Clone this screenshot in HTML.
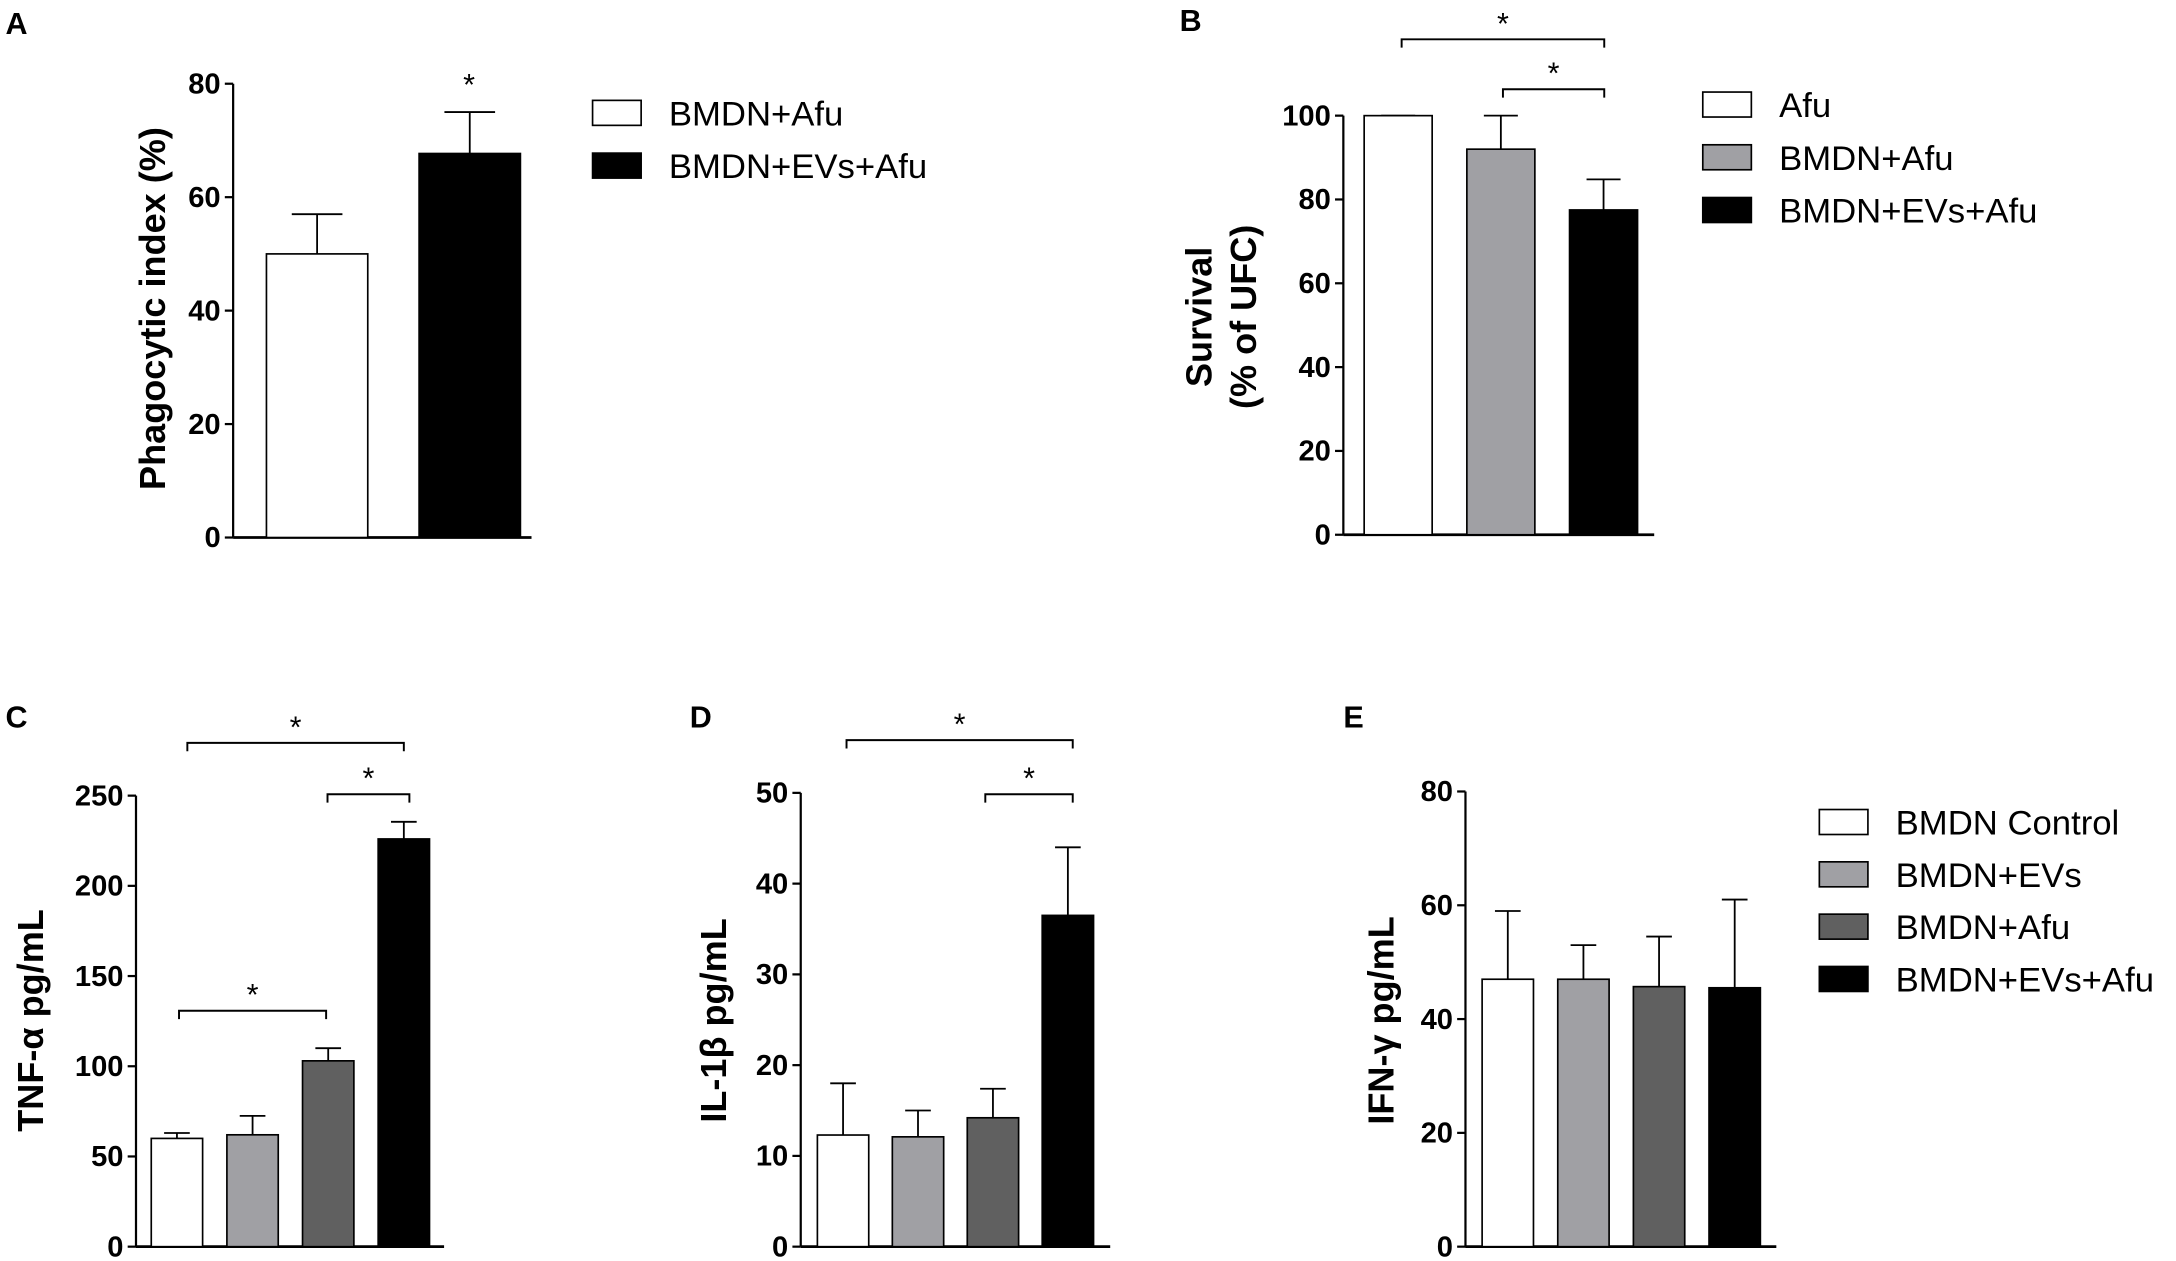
<!DOCTYPE html>
<html><head><meta charset="utf-8"><style>
html,body{margin:0;padding:0;background:#fff}
svg{display:block}
text{font-family:"Liberation Sans",sans-serif}
.tk{font-family:"Liberation Sans Narrow","Liberation Sans",sans-serif;font-weight:bold;font-size:21px}
.lg{font-size:25px}
.tt{font-weight:bold;font-size:26px}
.pl{font-weight:bold;font-size:22px}
</style></head><body>
<svg id="fig" width="2176" height="1261" viewBox="0 0 1568 908" xmlns="http://www.w3.org/2000/svg"></svg>
<script>
const categoriesA=["BMDN+Afu","BMDN+EVs+Afu"];
const valuesA=[50,67.7];
const errA=[57,75];
const ticksA=[0,20,40,60,80];
const categoriesB=["Afu","BMDN+Afu","BMDN+EVs+Afu"];
const valuesB=[100,92,77.5];
const errB=[100,100,84.8];
const ticksB=[0,20,40,60,80,100];
const categoriesCDE=["BMDN Control","BMDN+EVs","BMDN+Afu","BMDN+EVs+Afu"];
const valuesC=[60,62,103,226];
const errC=[63,72.5,110,235.5];
const ticksC=[0,50,100,150,200,250];
const valuesD=[12.3,12.1,14.2,36.5];
const errD=[18,15,17.4,44];
const ticksD=[0,10,20,30,40,50];
const valuesE=[47,47,45.7,45.5];
const errE=[59,53,54.5,61];
const ticksE=[0,20,40,60,80];

const NS="http://www.w3.org/2000/svg";
const svg=document.getElementById('fig');
function mk(tag,attrs,parent,txt){const e=document.createElementNS(NS,tag);for(const k in attrs)e.setAttribute(k,attrs[k]);if(txt!==undefined)e.textContent=txt;(parent||svg).appendChild(e);return e;}

function panel(o){
  const g=mk('g',{});
  
  
  const max=o.ticks[o.ticks.length-1];
  const y=v=>o.y0-(v/max)*(o.y0-o.yTop);
  const ax=mk('line',{x1:o.ax,y1:o.yTop,x2:o.ax,y2:o.y0,stroke:'#000','stroke-width':1.6},g);
  
  
  const xa=mk('line',{x1:o.ax,y1:o.y0,x2:o.axEnd,y2:o.y0,stroke:'#000','stroke-width':2},g);
  
  
  o.ticks.forEach(t=>{
    mk('line',{x1:o.ax-6,y1:y(t),x2:o.ax,y2:y(t),stroke:'#000','stroke-width':1.6},g);
    const tl=mk('text',{x:o.ax-9,y:y(t)+7,'text-anchor':'end',class:'tk'},g,String(t));
    
    
  });
  o.values.forEach((v,i)=>{
    const x=o.bx0+i*o.step, w=o.bw, cx=x+w/2;
    const e=mk('line',{x1:cx,y1:y(o.err[i]),x2:cx,y2:y(v),stroke:'#000','stroke-width':1.3},g);
    
    
    mk('line',{x1:cx-w/4,y1:y(o.err[i]),x2:cx+w/4,y2:y(o.err[i]),stroke:'#000','stroke-width':1.3},g);
    const r=mk('rect',{x:x,y:y(v),width:w,height:o.y0-y(v),fill:o.colors[i],stroke:'#000','stroke-width':1.2},g);
    
    
  });
  const t=mk('text',{class:'tt','text-anchor':'middle',transform:`translate(${o.tx},${o.ty}) rotate(-90)`},g);
  
  
  o.title.forEach((s,i)=>mk('tspan',{x:0,dy:i?32:0},t,s));
  const pl=mk('text',{x:o.lx,y:o.ly,class:'pl'},g,o.label);
  
  
  (o.brackets||[]).forEach(b=>{
    const bp=mk('path',{d:`M${b[0]},${b[2]+6}V${b[2]}H${b[1]}V${b[2]+6}`,fill:'none',stroke:'#000','stroke-width':1.4},g);
    
    
    mk('text',{x:(b[0]+b[1])/2,y:b[2]-4,'text-anchor':'middle','font-size':22},g,'*');
  });
  (o.stars||[]).forEach(s=>mk('text',{x:s[0],y:s[1],'text-anchor':'middle','font-size':22},g,'*'));
  if(o.legend){
    o.legend.forEach((n,i)=>{
      const ly=o.legY+i*o.legStep;
      const lb=mk('rect',{x:o.legX,y:ly-9,width:35,height:18,fill:o.colors[i],stroke:'#000','stroke-width':1.2},g);
      
      
      const lt=mk('text',{x:o.legX+55,y:ly+9,class:'lg'},g,n);
      
      
    });
  }
}
const W='#ffffff',G='#a0a0a4',D='#606060',K='#000000';
panel({name:'panel-a',label:'A',lx:4,ly:24,ticks:ticksA,values:valuesA,err:errA,ax:168,axEnd:383,y0:387,yTop:60,bx0:192,step:110,bw:73,colors:[W,K],title:['Phagocytic index (%)'],tx:119,ty:222,stars:[[338,68]],legend:categoriesA,legX:427,legY:81,legStep:38});
panel({name:'panel-b',label:'B',lx:850,ly:22,ticks:ticksB,values:valuesB,err:errB,ax:968,axEnd:1192,y0:385,yTop:83,bx0:983,step:74,bw:49,colors:[W,G,K],title:['Survival','(% of UFC)'],tx:873,ty:228,brackets:[[1010,1156,28],[1083,1156,64]],legend:categoriesB,legX:1227,legY:75,legStep:38});
panel({name:'panel-c',label:'C',lx:4,ly:524,ticks:ticksC,values:valuesC,err:errC,ax:98,axEnd:320,y0:898,yTop:573,bx0:109,step:54.5,bw:37,colors:[W,G,D,K],title:['TNF-α pg/mL'],tx:31,ty:735,brackets:[[135,291,535],[236,295,572],[129,235,728]]});
panel({name:'panel-d',label:'D',lx:497,ly:524,ticks:ticksD,values:valuesD,err:errD,ax:577,axEnd:800,y0:898,yTop:571,bx0:589,step:54,bw:37,colors:[W,G,D,K],title:['IL-1β pg/mL'],tx:523,ty:735,brackets:[[610,773,533],[710,773,572]]});
panel({name:'panel-e',label:'E',lx:968,ly:524,ticks:ticksE,values:valuesE,err:errE,ax:1056,axEnd:1280,y0:898,yTop:570,bx0:1068,step:54.5,bw:37,colors:[W,G,D,K],title:['IFN-γ pg/mL'],tx:1004,ty:735,legend:categoriesCDE,legX:1311,legY:592,legStep:37.7});
</script>
</body></html>
